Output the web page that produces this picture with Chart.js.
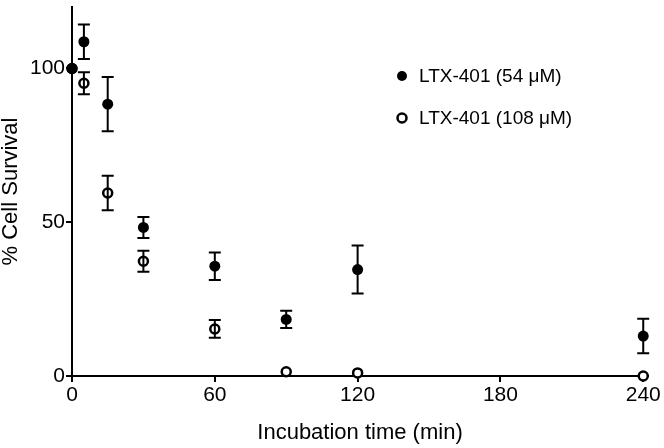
<!DOCTYPE html>
<html>
<head>
<meta charset="utf-8">
<script src="https://cdn.jsdelivr.net/npm/chart.js@4"></script>
<style>
  html, body { margin: 0; padding: 0; background: #fff; }
  #wrap { width: 664px; height: 448px; }
</style>
</head>
<body>
<div id="wrap"><canvas id="survivalChart"></canvas></div>
<script>
// Incubation time points (min)
const times = [0, 5, 15, 30, 60, 90, 120, 240];

// LTX-401 54 uM: mean and error
const survival54 = [100, 108.7, 88.4, 48.3, 35.7, 18.4, 34.6, 13.0];
const error54 = [0, 5.6, 8.8, 3.4, 4.5, 2.8, 7.8, 5.6];

// LTX-401 108 uM: mean and error
const survival108 = [100, 95.2, 59.5, 37.3, 15.3, 1.4, 1.0, 0];
const error108 = [0, 3.6, 5.6, 3.4, 2.9, 0, 0, 0];

const xTicks = [0, 60, 120, 180, 240];
const yTicks = [0, 50, 100];
const seriesLabels = ['LTX-401 (54 \u03BCM)', 'LTX-401 (108 \u03BCM)'];

const FONT = 'Liberation Sans, Arial, sans-serif';

function toPoints(ys, errs) {
    return times.map((t, i) => ({ x: t, y: ys[i], err: errs[i] }));
}

// draws error bars through the chart scales
const errorBars = {
    id: 'errorBars',
    afterDatasetsDraw(chart) {
        const ctx = chart.ctx;
        const xs = chart.scales.x, ys = chart.scales.y;
        ctx.save();
        ctx.strokeStyle = '#000';
        ctx.lineWidth = 2;
        chart.data.datasets.forEach(ds => {
            ds.data.forEach(p => {
                if (!p.err) return;
                const px = xs.getPixelForValue(p.x);
                const top = ys.getPixelForValue(p.y + p.err);
                const bot = ys.getPixelForValue(p.y - p.err);
                ctx.beginPath();
                ctx.moveTo(px, top); ctx.lineTo(px, bot);
                ctx.moveTo(px - 6, top); ctx.lineTo(px + 6, top);
                ctx.moveTo(px - 6, bot); ctx.lineTo(px + 6, bot);
                ctx.stroke();
            });
        });
        ctx.restore();
    }
};

// legend drawn at the upper right, like the original figure
const sideLegend = {
    id: 'sideLegend',
    afterDraw(chart) {
        const ctx = chart.ctx;
        ctx.save();
        ctx.font = '19px ' + FONT;
        ctx.fillStyle = '#000';
        ctx.textBaseline = 'middle';
        const rows = [76, 118];
        rows.forEach((y, i) => {
            ctx.beginPath();
            ctx.arc(402, y, i === 0 ? 5 : 4.5, 0, Math.PI * 2);
            if (i === 0) { ctx.fill(); }
            else { ctx.lineWidth = 2.5; ctx.strokeStyle = '#000'; ctx.stroke(); }
            ctx.fillText(seriesLabels[i], 419, y + 1);
        });
        ctx.restore();
    }
};

const ctx = document.getElementById('survivalChart').getContext('2d');

const config = {
    type: 'scatter',
    data: {
        datasets: [
            {
                label: seriesLabels[1],
                data: toPoints(survival108, error108),
                pointRadius: 4.5,
                pointBorderWidth: 2.5,
                pointBackgroundColor: '#fff',
                pointBorderColor: '#000',
                clip: false,
                order: 2
            },
            {
                label: seriesLabels[0],
                data: toPoints(survival54, error54),
                pointRadius: 5.5,
                pointBorderWidth: 0,
                pointBackgroundColor: '#000',
                pointBorderColor: '#000',
                clip: false,
                order: 1
            }
        ]
    },
    options: {
        responsive: true,
        maintainAspectRatio: false,
        animation: false,
        layout: { padding: { top: 2, right: 16, left: 0, bottom: 2 } },
        plugins: {
            legend: { display: false },
            tooltip: { enabled: false }
        },
        scales: {
            x: {
                type: 'linear',
                min: 0,
                max: 242,
                afterBuildTicks: axis => { axis.ticks = xTicks.map(v => ({ value: v })); },
                afterFit: axis => { axis.height = 70; axis.paddingLeft = 0; axis.paddingRight = 0; },
                grid: { drawOnChartArea: false, color: '#000', lineWidth: 2, tickLength: 6 },
                border: { color: '#000', width: 2 },
                ticks: { color: '#000', font: { size: 21, family: FONT }, padding: 1, maxRotation: 0 },
                title: { display: true, text: 'Incubation time (min)', color: '#000', font: { size: 22, family: FONT }, padding: { top: 4, bottom: 0 } }
            },
            y: {
                min: 0,
                max: 120,
                afterBuildTicks: axis => { axis.ticks = yTicks.map(v => ({ value: v })); },
                afterFit: axis => { axis.width = 72; axis.paddingTop = 0; axis.paddingBottom = 0; },
                grid: { drawOnChartArea: false, color: '#000', lineWidth: 2, tickLength: 6 },
                border: { color: '#000', width: 2 },
                ticks: { color: '#000', font: { size: 21, family: FONT }, padding: 1 },
                title: { display: true, text: '% Cell Survival', color: '#000', font: { size: 22, family: FONT, lineHeight: 1 }, padding: { top: 0, bottom: 0 } }
            }
        }
    },
    plugins: [errorBars, sideLegend]
};

const survivalChart = new Chart(ctx, config);
</script>
</body>
</html>
